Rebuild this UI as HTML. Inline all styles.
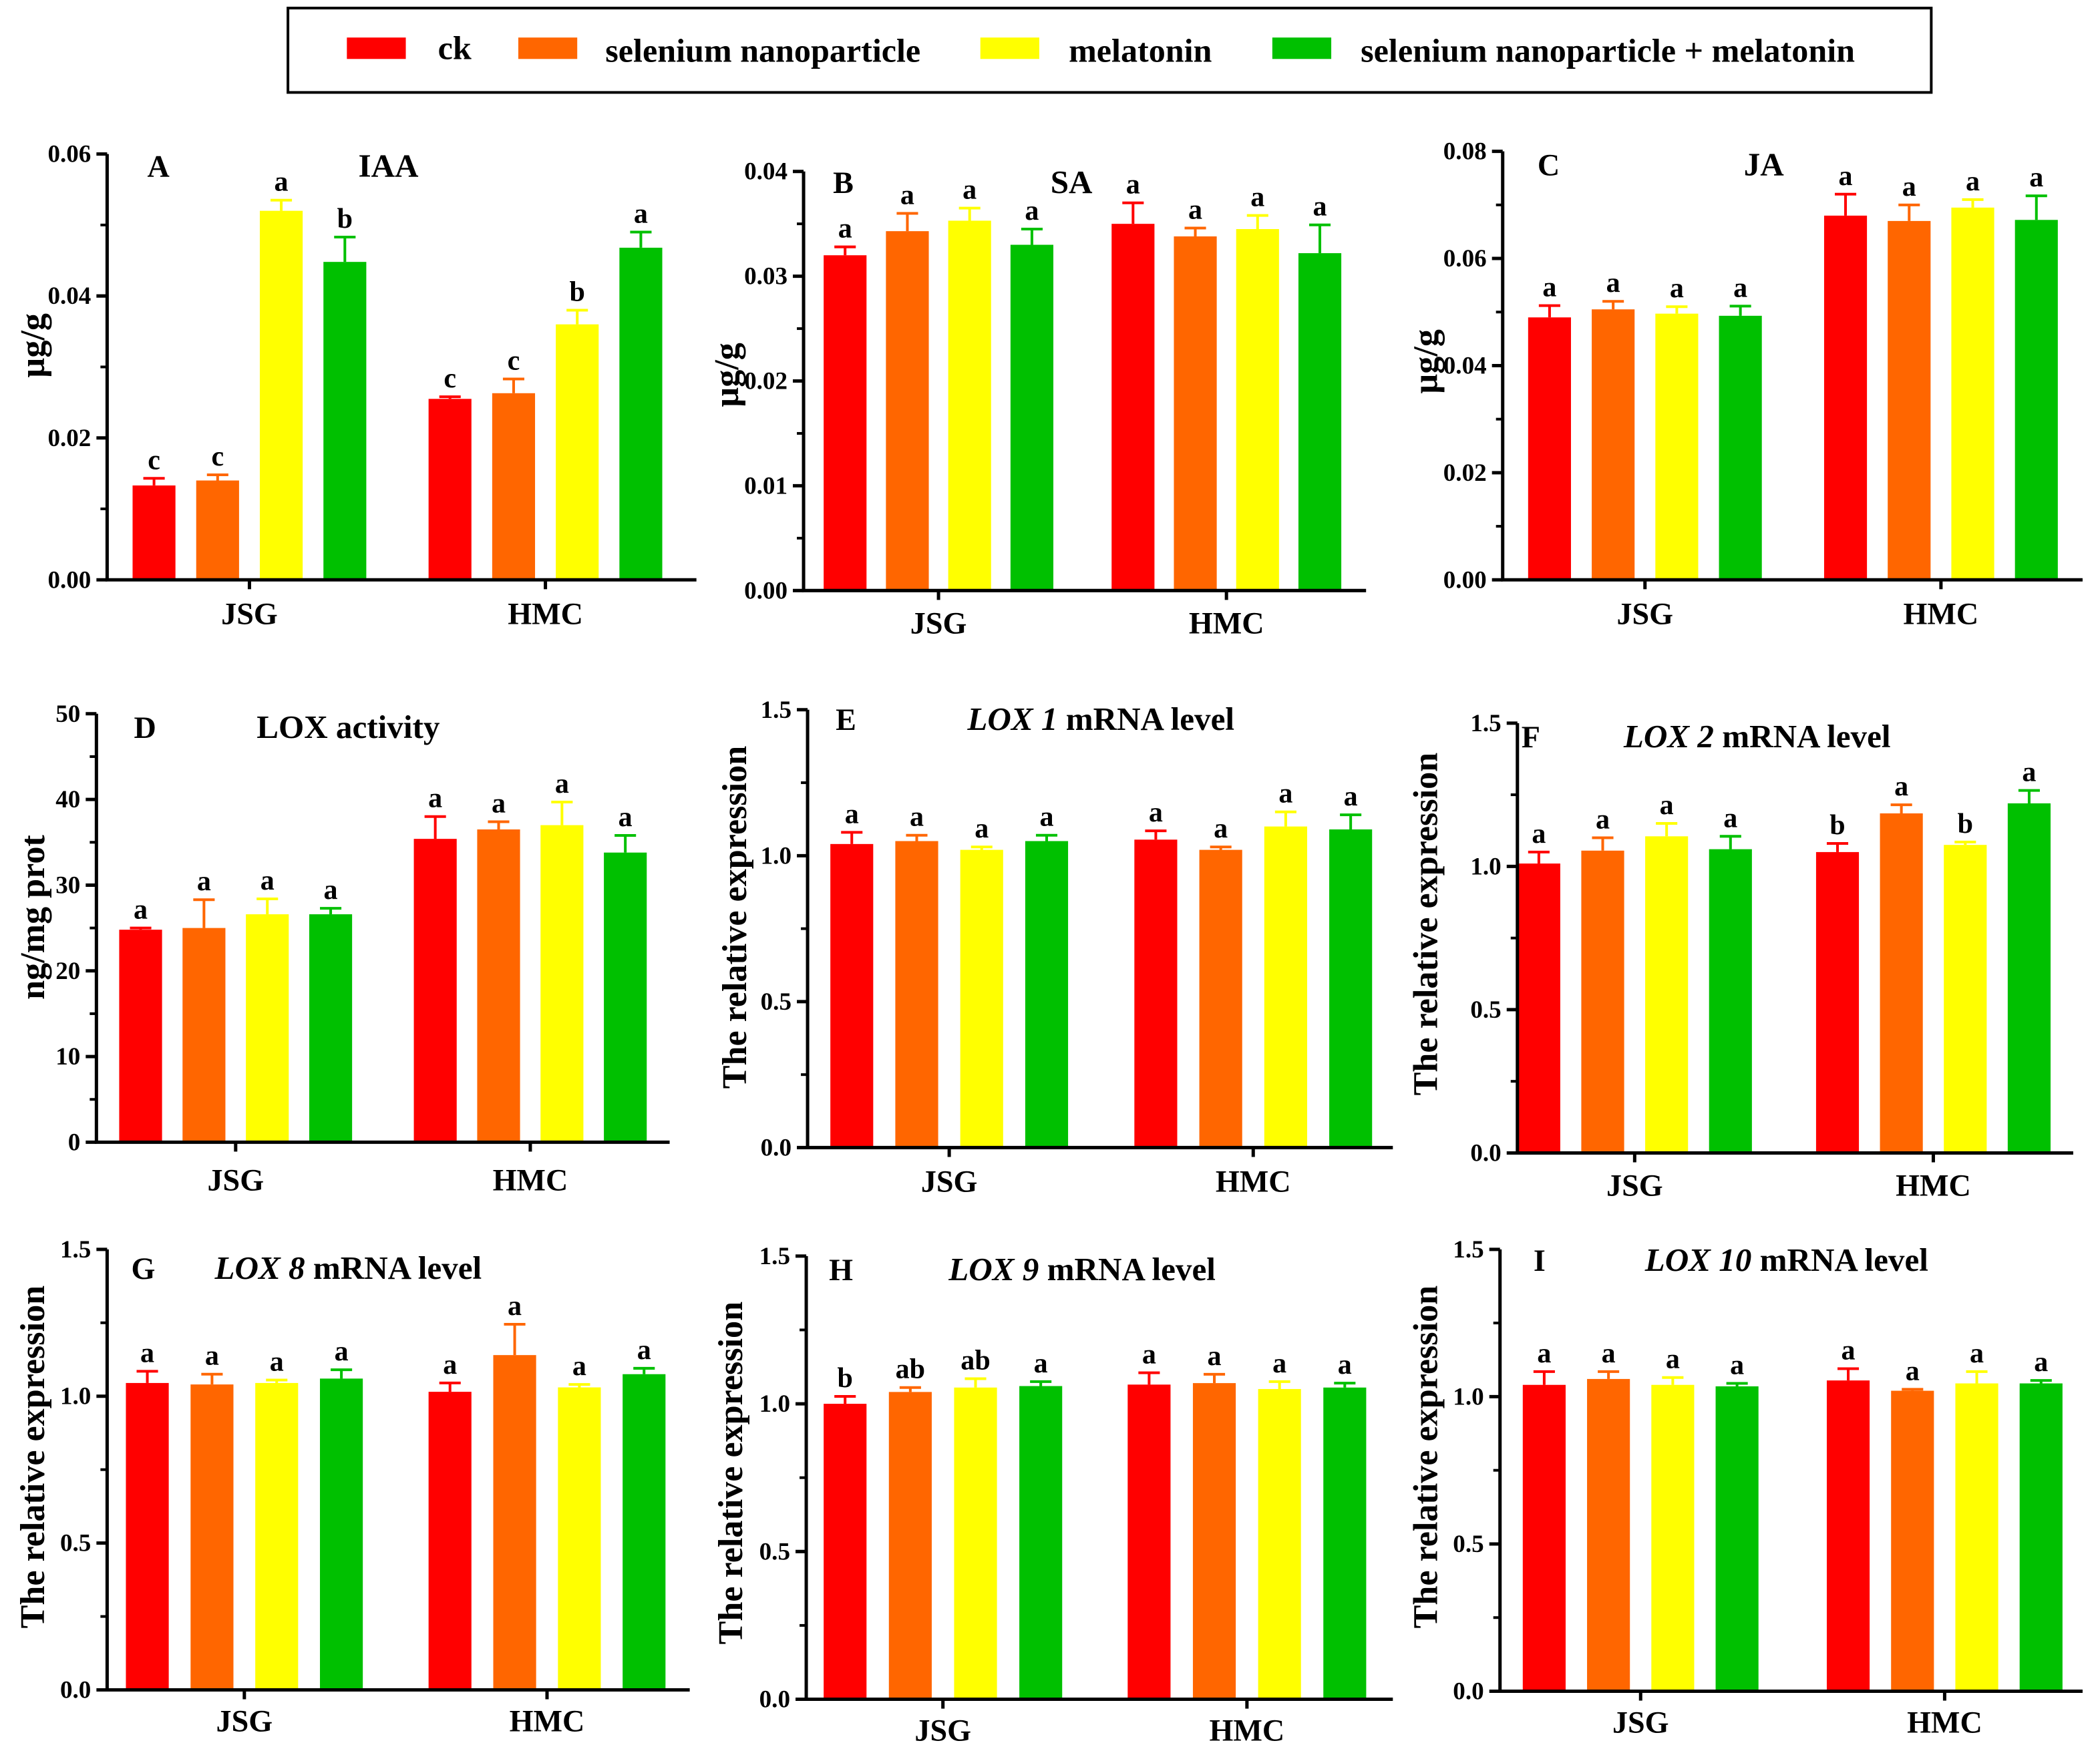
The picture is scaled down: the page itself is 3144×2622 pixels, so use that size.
<!DOCTYPE html>
<html><head><meta charset="utf-8"><style>
html,body{margin:0;padding:0;background:#fff}
svg{display:block}
text{font-family:"Liberation Serif",serif;font-weight:bold;fill:#000}
</style></head><body>
<svg id="fig" xmlns="http://www.w3.org/2000/svg" width="3144" height="2622" viewBox="0 0 1568 1307.6">
<g>
<rect x="215" y="6" width="1227" height="63" fill="none" stroke="#000" stroke-width="2"/>
<rect x="259" y="28" width="44" height="16" fill="#ff0000"/>
<text x="327" y="44" font-size="25">ck</text>
<rect x="387" y="28" width="44" height="16" fill="#ff6600"/>
<text x="452" y="46" font-size="25">selenium nanoparticle</text>
<rect x="732" y="28" width="44" height="16" fill="#ffff00"/>
<text x="798" y="46" font-size="25">melatonin</text>
<rect x="950" y="28" width="44" height="16" fill="#00c000"/>
<text x="1016" y="46" font-size="25">selenium nanoparticle + melatonin</text>
</g>
</svg>
<script>
const groups = ["JSG","HMC"];
const colors = ["#ff0000","#ff6600","#ffff00","#00c000"];
const aVals = [0.0133,0.014,0.052,0.0448, 0.0255,0.0263,0.036,0.0468];
const aErrs = [0.001,0.0008,0.0015,0.0035, 0.0003,0.002,0.002,0.0022];
const aLetters = ["c","c","a","b","c","c","b","a"];
const aTicks = ["0.00","0.02","0.04","0.06"];
const bVals = [0.032,0.0343,0.0353,0.033, 0.035,0.0338,0.0345,0.0322];
const bErrs = [0.0008,0.0017,0.0012,0.0015, 0.002,0.0008,0.0013,0.0027];
const bLetters = ["a","a","a","a","a","a","a","a"];
const bTicks = ["0.00","0.01","0.02","0.03","0.04"];
const cVals = [0.049,0.0505,0.0497,0.0493, 0.068,0.067,0.0695,0.0672];
const cErrs = [0.0022,0.0015,0.0013,0.0018, 0.004,0.003,0.0015,0.0045];
const cLetters = ["a","a","a","a","a","a","a","a"];
const cTicks = ["0.00","0.02","0.04","0.06","0.08"];
const dVals = [24.8,25,26.6,26.6, 35.4,36.5,37,33.8];
const dErrs = [0.2,3.3,1.8,0.7, 2.6,0.9,2.7,2];
const dLetters = ["a","a","a","a","a","a","a","a"];
const dTicks = ["0","10","20","30","40","50"];
const eVals = [1.04,1.05,1.02,1.05, 1.055,1.02,1.10,1.09];
const eErrs = [0.04,0.02,0.01,0.02, 0.03,0.01,0.05,0.05];
const eLetters = ["a","a","a","a","a","a","a","a"];
const fVals = [1.01,1.055,1.105,1.06, 1.05,1.185,1.075,1.22];
const fErrs = [0.04,0.045,0.045,0.045, 0.03,0.03,0.01,0.045];
const fLetters = ["a","a","a","a","b","a","b","a"];
const gVals = [1.045,1.04,1.045,1.06, 1.015,1.14,1.03,1.075];
const gErrs = [0.04,0.035,0.01,0.03, 0.03,0.105,0.01,0.02];
const gLetters = ["a","a","a","a","a","a","a","a"];
const hVals = [1.0,1.04,1.055,1.06, 1.065,1.07,1.05,1.055];
const hErrs = [0.025,0.015,0.03,0.015, 0.04,0.03,0.025,0.015];
const hLetters = ["b","ab","ab","a","a","a","a","a"];
const iVals = [1.04,1.06,1.04,1.035, 1.055,1.02,1.045,1.045];
const iErrs = [0.045,0.025,0.025,0.01, 0.04,0.005,0.04,0.01];
const iLetters = ["a","a","a","a","a","a","a","a"];
const relTicks = ["0.0","0.5","1.0","1.5"];

const NS="http://www.w3.org/2000/svg";
const svg=document.getElementById('fig');
function mk(tag,attrs,parent,txt){const e=document.createElementNS(NS,tag);for(const k in attrs)e.setAttribute(k,attrs[k]);if(txt!==undefined)e.textContent=txt;parent.appendChild(e);return e;}

function panel(cfg){
  const g=mk('g',{},svg);
  
  
  const ymax=parseFloat(cfg.ticks[cfg.ticks.length-1]);
  const y=v=>cfg.bottom-(v/ymax)*(cfg.bottom-cfg.top);
  const bw=32;
  cfg.vals.forEach((v,i)=>{
    const gi=Math.floor(i/4), k=i%4;
    const cx=cfg.x0[gi]+k*cfg.step;
    const col=colors[k];
    const r=mk('rect',{x:cx-bw/2,y:y(v),width:bw,height:cfg.bottom-y(v),fill:col},g);
    
    
    const ye=y(v+cfg.errs[i]);
    const l=mk('path',{d:`M${cx} ${y(v)} V${ye} M${cx-8} ${ye} H${cx+8}`,stroke:col,'stroke-width':2,fill:'none'},g);
    
    
    const t=mk('text',{x:cx,y:ye-7,'font-size':21,'text-anchor':'middle'},g,cfg.letters[i]);
    
    
  });
  const ax=mk('path',{d:`M${cfg.ax} ${cfg.top} V${cfg.bottom} H${cfg.end}`,stroke:'#000','stroke-width':2.5,fill:'none'},g);
  
  
  cfg.ticks.forEach((tk,j)=>{
    const v=parseFloat(tk), yy=y(v);
    mk('line',{x1:cfg.ax-8,x2:cfg.ax,y1:yy,y2:yy,stroke:'#000','stroke-width':2.5},g);
    const t=mk('text',{x:cfg.ax-12,y:yy+6,'font-size':18.5,'text-anchor':'end'},g,tk);
    
    
    if(j<cfg.ticks.length-1){const ym=y(v+ymax/(cfg.ticks.length-1)/2);mk('line',{x1:cfg.ax-5,x2:cfg.ax,y1:ym,y2:ym,stroke:'#000','stroke-width':2},g);}
  });
  groups.forEach((gn,gi)=>{
    const cx=cfg.x0[gi]+1.5*cfg.step;
    mk('line',{x1:cx,x2:cx,y1:cfg.bottom,y2:cfg.bottom+7,stroke:'#000','stroke-width':2.5},g);
    const t=mk('text',{x:cx,y:cfg.xly,'font-size':23,'text-anchor':'middle'},g,gn);
    
    
  });
  const yt=mk('text',{x:0,y:0,'font-size':26,'text-anchor':'middle',transform:`translate(${cfg.ytx},${cfg.yty}) rotate(-90)`},g,cfg.ytitle);
  
  
  const pl=mk('text',{x:cfg.lx,y:cfg.ly,'font-size':23},g,cfg.id);
  
  
  const ti=mk('text',{x:cfg.tx,y:cfg.ly,'font-size':24.5,'text-anchor':'middle'},g);
  
  
  if(cfg.gene){mk('tspan',{'font-style':'italic'},ti,cfg.gene);mk('tspan',{},ti,' mRNA level');}
  else ti.textContent=cfg.title;
}
const REL="The relative expression";
panel({id:'A',vals:aVals,errs:aErrs,letters:aLetters,ticks:aTicks,ax:80,top:115,bottom:433,end:520,x0:[115,336],step:47.5,xly:466,ytitle:'µg/g',ytx:33,yty:258,lx:110,ly:132,tx:290,title:'IAA'});
panel({id:'B',vals:bVals,errs:bErrs,letters:bLetters,ticks:bTicks,ax:600,top:128,bottom:441,end:1020,x0:[631,846],step:46.5,xly:473,ytitle:'µg/g',ytx:551,yty:280,lx:622,ly:144,tx:800,title:'SA'});
panel({id:'C',vals:cVals,errs:cErrs,letters:cLetters,ticks:cTicks,ax:1122,top:113,bottom:433,end:1555,x0:[1157,1378],step:47.5,xly:466,ytitle:'µg/g',ytx:1073,yty:270,lx:1148,ly:131,tx:1317,title:'JA'});
panel({id:'D',vals:dVals,errs:dErrs,letters:dLetters,ticks:dTicks,ax:72,top:533,bottom:853,end:500,x0:[105,325],step:47.3,xly:889,ytitle:'ng/mg prot',ytx:33,yty:685,lx:100,ly:551,tx:260,title:'LOX activity'});
panel({id:'E',vals:eVals,errs:eErrs,letters:eLetters,ticks:relTicks,ax:603,top:530,bottom:857,end:1040,x0:[636,863],step:48.5,xly:890,ytitle:REL,ytx:557,yty:685,lx:624,ly:545,tx:822,gene:'LOX 1'});
panel({id:'F',vals:fVals,errs:fErrs,letters:fLetters,ticks:relTicks,ax:1133,top:540,bottom:861,end:1548,x0:[1149,1372],step:47.7,xly:893,ytitle:REL,ytx:1073,yty:690,lx:1136,ly:558,tx:1312,gene:'LOX 2'});
panel({id:'G',vals:gVals,errs:gErrs,letters:gLetters,ticks:relTicks,ax:80,top:933,bottom:1262,end:515,x0:[110,336],step:48.3,xly:1293,ytitle:REL,ytx:33,yty:1088,lx:98,ly:955,tx:260,gene:'LOX 8'});
panel({id:'H',vals:hVals,errs:hErrs,letters:hLetters,ticks:relTicks,ax:602,top:938,bottom:1269,end:1040,x0:[631,858],step:48.7,xly:1300,ytitle:REL,ytx:554,yty:1100,lx:619,ly:956,tx:808,gene:'LOX 9'});
panel({id:'I',vals:iVals,errs:iErrs,letters:iLetters,ticks:relTicks,ax:1120,top:933,bottom:1263,end:1555,x0:[1153,1380],step:48,xly:1294,ytitle:REL,ytx:1073,yty:1088,lx:1145,ly:949,tx:1334,gene:'LOX 10'});
</script>
</body></html>
